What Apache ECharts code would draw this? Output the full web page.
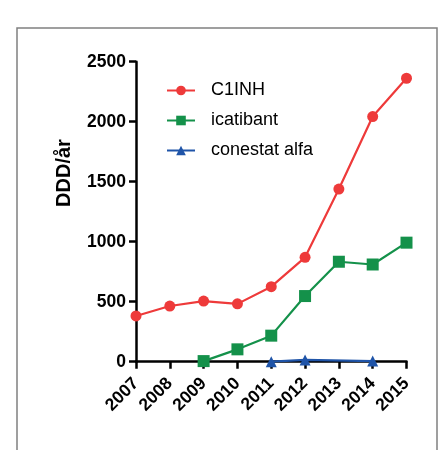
<!DOCTYPE html>
<html><head><meta charset="utf-8">
<script src="https://cdn.jsdelivr.net/npm/echarts@6/dist/echarts.min.js"></script>
<style>html,body{margin:0;padding:0;background:#fff}#c{width:445px;height:450px}</style>
</head><body><div id="c"></div>
<script>
var years = ['2007','2008','2009','2010','2011','2012','2013','2014','2015'];
var c1inh = [381, 464, 505, 482, 625, 870, 1439, 2043, 2362];
var icatibant = [null, null, 5, 103, 217, 547, 833, 810, 992];
var conestat = [null, null, null, null, 0, 15, null, 5, null];
var yTicks = [0, 500, 1000, 1500, 2000, 2500];
var yTitle = 'DDD/år';
var font = 'Liberation Sans, Arial, Helvetica, sans-serif';
var chart = echarts.init(document.getElementById('c'), null, {renderer:'canvas'});
chart.setOption({
  animation:false,
  backgroundColor:'#fff',
  graphic:[
    {type:'rect', shape:{x:17,y:28,width:420,height:460}, style:{fill:'none', stroke:'#808080', lineWidth:1.5}, z:-1},
    {type:'text', x:64, y:173, rotation:Math.PI/2,
     style:{text:yTitle, font:'bold 20px ' + font, fill:'#000', align:'center', verticalAlign:'middle'}}
  ],
  grid:{left:136, right:38.5, top:61.7, bottom:88.3, containLabel:false},
  legend:{
    orient:'vertical', left:166, top:81.5, padding:0, itemWidth:28, itemHeight:12, itemGap:12,
    textStyle:{fontFamily:font, fontSize:18, color:'#000', padding:[0,0,0,11]},
    data:['C1INH','icatibant','conestat alfa']
  },
  xAxis:{
    type:'category', data:years, boundaryGap:false,
    axisLine:{lineStyle:{color:'#000', width:2.5}},
    axisTick:{show:true, length:7, lineStyle:{color:'#000', width:2.5}},
    axisLabel:{rotate:45, margin:19, fontFamily:font, fontWeight:'bold', fontSize:17.5, color:'#000'},
    splitLine:{show:false}
  },
  yAxis:{
    type:'value', min:yTicks[0], max:yTicks[yTicks.length-1], interval:500,
    axisLine:{show:true, lineStyle:{color:'#000', width:2.5}},
    axisTick:{show:true, length:7, lineStyle:{color:'#000', width:2.5}},
    axisLabel:{margin:10, fontFamily:font, fontWeight:'bold', fontSize:17.5, color:'#000',
      formatter:function(v){return String(v);}},
    splitLine:{show:false}
  },
  series:[
    {name:'C1INH', type:'line', data:c1inh, symbol:'circle', symbolSize:11,
     itemStyle:{color:'#ee3a3a'}, lineStyle:{width:2.2, color:'#ee3a3a'}, z:3},
    {name:'icatibant', type:'line', data:icatibant, symbol:'rect', symbolSize:12,
     itemStyle:{color:'#14914a'}, lineStyle:{width:2.2, color:'#14914a'}, z:2},
    {name:'conestat alfa', type:'line', data:conestat, symbol:'triangle', symbolSize:11, connectNulls:true,
     itemStyle:{color:'#1f54a8'}, lineStyle:{width:2.2, color:'#1f54a8'}, z:4}
  ]
});
</script></body></html>
